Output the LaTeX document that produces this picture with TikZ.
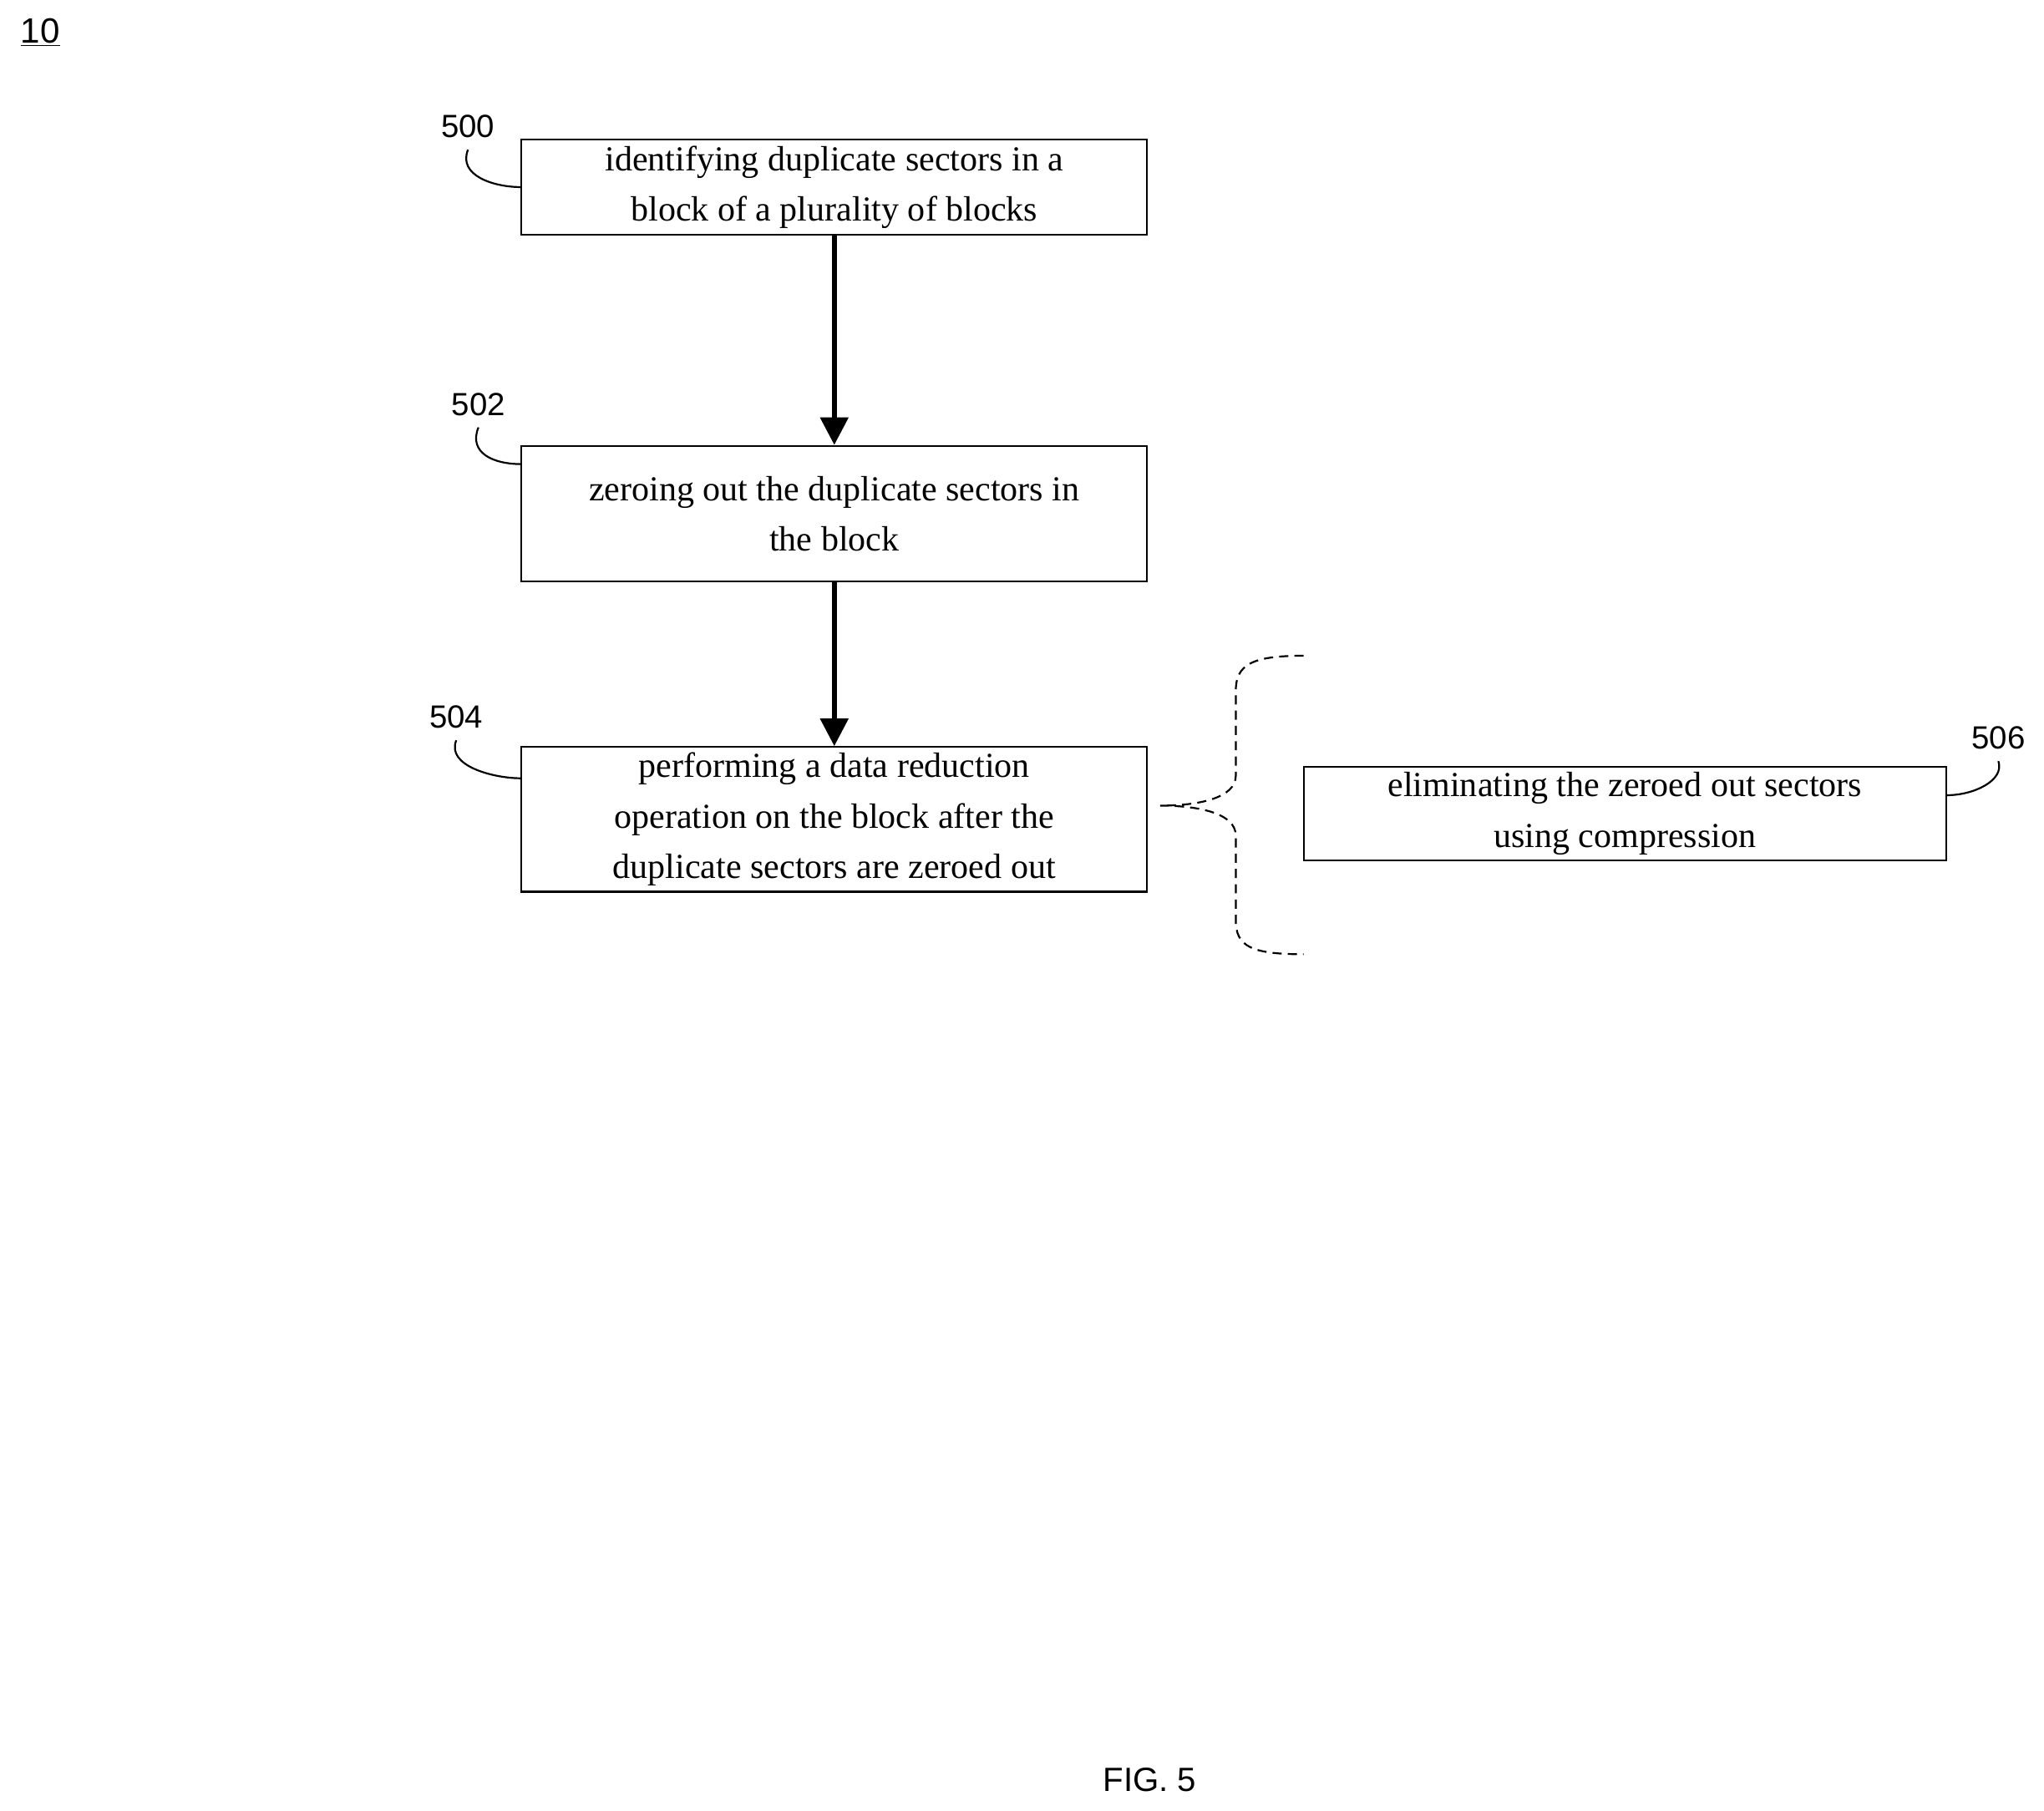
\documentclass[tikz,border=0pt]{standalone}
\usepackage{fontspec}
\setmainfont{Liberation Serif}
\newfontfamily\arial{Liberation Sans}
\usetikzlibrary{arrows.meta,calc}
\begin{document}
\begin{tikzpicture}[x=0.3mm,y=-0.3mm,
  box/.style={draw,line width=1.2pt,inner sep=0pt,font=\fontsize{23}{33}\selectfont,align=center},
  lab/.style={font=\arial\fontsize{21}{25}\selectfont},
  arr/.style={line width=3pt,-{Triangle[length=18pt,width=18pt]}},
  lead/.style={line width=1.2pt}]
\useasboundingbox (0,0) rectangle (1568,1389);
\node[lab,font=\arial\fontsize{23}{25}\selectfont] (ten) at (31,25) {\underline{10}};
\node[box,minimum width=480*0.3mm,minimum height=73*0.3mm] (b500) at (640,143.5) {identifying duplicate sectors in a\\block of a plurality of blocks};
\node[box,minimum width=480*0.3mm,minimum height=104*0.3mm] (b502) at (640,394) {zeroing out the duplicate sectors in\\the block};
\node[box,minimum width=480*0.3mm,minimum height=111*0.3mm] (b504) at (640,628.5) {performing a data reduction\\operation on the block after the\\duplicate sectors are zeroed out};
\node[box,minimum width=493*0.3mm,minimum height=72*0.3mm] (b506) at (1246.5,624) {eliminating the zeroed out sectors\\using compression};
\draw[arr] (b500.south) -- (b502.north);
\draw[arr] (b502.south) -- (b504.north);
\node[lab] (l500) at (359,97) {500};
\node[lab] (l502) at (367,310) {502};
\node[lab] (l504) at (350,550) {504};
\node[lab] (l506) at (1533,566) {506};
\draw[lead] ($(l500.south)+(0,5)$) .. controls +(-8,20) and +(-20,0) .. (b500.west);
\draw[lead] ($(l502.south)+(0,5)$) .. controls +(-8,20) and +(-20,0) .. (b502.north west |- 0,356);
\draw[lead] ($(l504.south)+(0,5)$) .. controls +(-8,20) and +(-20,0) .. (b504.north west |- 0,597);
\draw[lead] ($(b506.east)+(0,-14)$) .. controls +(20,0) and +(5,15) .. ($(l506.south)+(0,5)$);
\coordinate (bt) at (1000,503);
\coordinate (bb) at (1000,732);
\coordinate (tip) at (890,618);
\draw[lead,dash pattern=on 6pt off 4pt] (bt) .. controls (960,503) and (948,510) .. (948,530) -- (948,595) .. controls (948,612) and (920,618) .. (tip)
  .. controls (920,618) and (948,624) .. (948,641) -- (948,706) .. controls (948,726) and (960,732) .. (bb);
\node[lab,font=\arial\fontsize{22}{25}\selectfont] (fig) at (882,1365) {FIG. 5};
\end{tikzpicture}
\end{document}
